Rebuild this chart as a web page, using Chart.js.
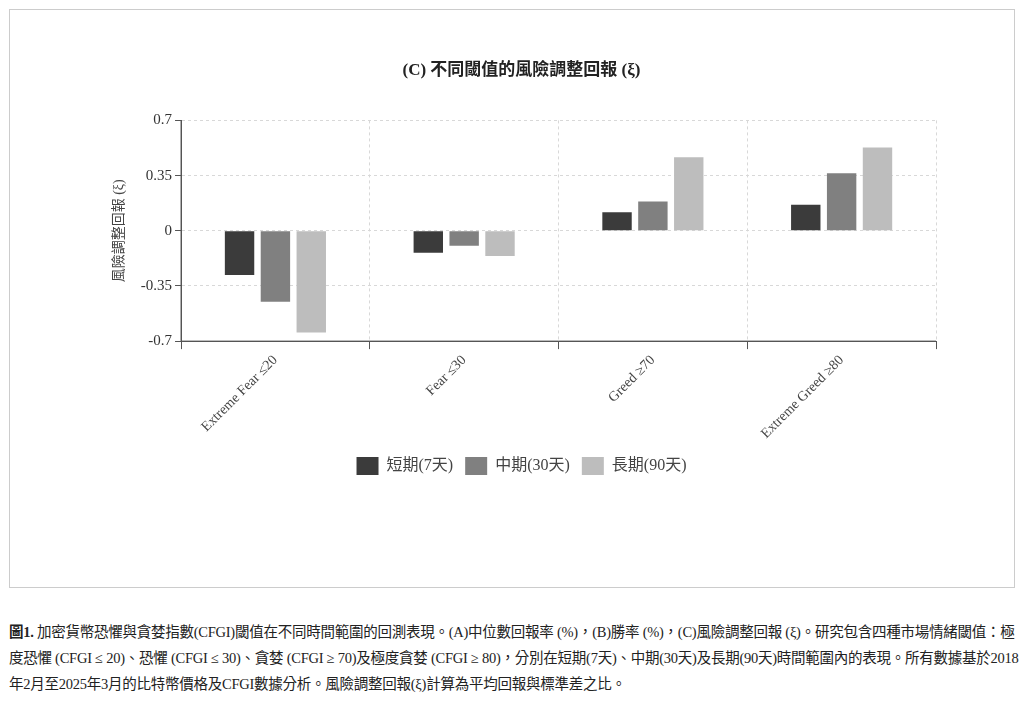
<!DOCTYPE html>
<html>
<head>
<meta charset="utf-8">
<script src="https://cdn.jsdelivr.net/npm/chart.js@4"></script>
<style>
  body { margin: 0; background: #fff; font-family: "Liberation Serif", "Noto Sans CJK TC", serif; }
  #box { position: absolute; left: 9px; top: 9px; width: 1004px; height: 577px; border: 1px solid #ccc; }
  #caption { position: absolute; left: 9px; top: 619px; width: 1010px; font-size: 14.5px; line-height: 26px; color: #222;
             letter-spacing: -0.25px; font-family: "Liberation Serif", "Noto Sans CJK TC", serif; }
</style>
</head>
<body>
<div id="box"><canvas id="c" width="1004" height="577"></canvas></div>
<div id="caption"><b>圖1.</b> 加密貨幣恐懼與貪婪指數(CFGI)閾值在不同時間範圍的回測表現。(A)中位數回報率 (%)，(B)勝率 (%)，(C)風險調整回報 (ξ)。研究包含四種市場情緒閾值：極度恐懼 (CFGI ≤ 20)、恐懼 (CFGI ≤ 30)、貪婪 (CFGI ≥ 70)及極度貪婪 (CFGI ≥ 80)，分別在短期(7天)、中期(30天)及長期(90天)時間範圍內的表現。所有數據基於2018年2月至2025年3月的比特幣價格及CFGI數據分析。風險調整回報(ξ)計算為平均回報與標準差之比。</div>
<script>
// ── Data ──────────────────────────────────────────────────────────────────────
const categories = ['Extreme Fear ≤20', 'Fear ≤30', 'Greed ≥70', 'Extreme Greed ≥80'];
const shortTerm  = [-0.28, -0.14, 0.117, 0.165];
const midTerm    = [-0.45, -0.095, 0.185, 0.364];
const longTerm   = [-0.645, -0.16, 0.467, 0.528];
const yTicks     = [-0.7, -0.35, 0, 0.35, 0.7];

const font = "'Liberation Serif', 'Noto Sans CJK TC', serif";

new Chart(document.getElementById('c'), {
  type: 'bar',
  data: {
    labels: categories,
    datasets: [
      { label: '短期(7天)',  data: shortTerm, backgroundColor: '#3b3b3b' },
      { label: '中期(30天)', data: midTerm,   backgroundColor: '#808080' },
      { label: '長期(90天)', data: longTerm,  backgroundColor: '#bdbdbd' },
    ],
  },
  options: {
    responsive: false,
    animation: false,
    categoryPercentage: 0.57,
    barPercentage: 0.82,
    layout: { padding: { left: 97, right: 78, top: 50, bottom: 102 } },
    plugins: {
      title: {
        display: true, text: '(C) 不同閾值的風險調整回報 (ξ)', color: '#222',
        font: { family: font, size: 17, weight: 'bold' }, padding: { bottom: 40 },
      },
      legend: {
        position: 'bottom',
        labels: { color: '#444', font: { family: font, size: 16 }, boxWidth: 22, boxHeight: 18, padding: 12 },
      },
      tooltip: { enabled: false },
    },
    scales: {
      x: {
        grid: { color: '#d8d8d8', tickColor: '#555', tickLength: 8 },
        border: { color: '#555', dash: [3, 3] },
        ticks: { color: '#444', font: { family: font, size: 14 }, maxRotation: 45, minRotation: 45 },
      },
      y: {
        min: -0.7, max: 0.7,
        afterBuildTicks: (s) => { s.ticks = yTicks.map((v) => ({ value: v })); },
        grid: { color: '#d8d8d8', tickColor: '#555', tickLength: 6 },
        border: { color: '#555', dash: [3, 3] },
        ticks: { color: '#333', font: { family: font, size: 15 }, callback: (v) => String(v) },
        title: { display: true, text: '風險調整回報 (ξ)', color: '#444', font: { family: font, size: 14 }, padding: { bottom: 10 } },
      },
    },
  },
  plugins: [{
    // solid axis lines on top of the dashed grid
    id: 'axes',
    afterDraw(chart) {
      const { ctx, chartArea: a } = chart;
      ctx.save();
      ctx.strokeStyle = '#555';
      ctx.lineWidth = 1;
      ctx.beginPath();
      ctx.moveTo(a.left, a.top);
      ctx.lineTo(a.left, a.bottom);
      ctx.lineTo(a.right, a.bottom);
      ctx.stroke();
      ctx.restore();
    },
  }],
});
</script>
</body>
</html>
